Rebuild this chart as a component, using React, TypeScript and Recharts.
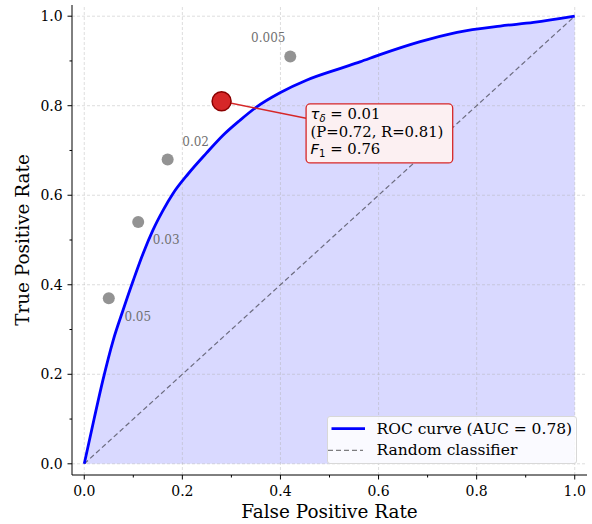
import {
  ComposedChart,
  Area,
  Line,
  Scatter,
  XAxis,
  YAxis,
  ReferenceLine,
  Label,
} from "recharts";

// ROC curve
const rocFpr = [0, 0.02, 0.038, 0.059, 0.079, 0.1, 0.12, 0.14, 0.16, 0.181, 0.212, 0.249, 0.283, 0.317, 0.351, 0.399, 0.453, 0.521, 0.562, 0.603, 0.685, 0.76, 0.848, 0.916, 1.0];
const rocTpr = [0, 0.1, 0.187, 0.276, 0.343, 0.41, 0.47, 0.522, 0.565, 0.604, 0.648, 0.694, 0.734, 0.767, 0.797, 0.829, 0.857, 0.883, 0.898, 0.914, 0.943, 0.964, 0.978, 0.986, 1.0];

// threshold operating points
const thrLabels = ["0.05", "0.03", "0.02", "0.005"];
const thrFpr = [0.05, 0.11, 0.17, 0.42];
const thrTpr = [0.37, 0.54, 0.68, 0.91];

// chosen threshold
const bestFpr = [0.28];
const bestTpr = [0.81];

const diagFpr = [0, 1];
const diagTpr = [0, 1];

const majorTicks = [0, 0.2, 0.4, 0.6, 0.8, 1.0];
const allTicks = [0, 0.1, 0.2, 0.3, 0.4, 0.5, 0.6, 0.7, 0.8, 0.9, 1.0];

const rocData = rocFpr.map((x, i) => ({ fpr: x, tpr: rocTpr[i] }));
const thrData = thrFpr.map((x, i) => ({ fpr: x, tpr: thrTpr[i], label: thrLabels[i] }));
const bestData = bestFpr.map((x, i) => ({ fpr: x, tpr: bestTpr[i] }));
const diagData = diagFpr.map((x, i) => ({ fpr: x, diag: diagTpr[i] }));

// label placement next to each gray dot (pixels from the dot)
const labelOffset: Record<string, [number, number]> = {
  "0.05": [29, 19],
  "0.03": [28, 18],
  "0.02": [28, -17],
  "0.005": [-22, -18],
};

const FONT = "DejaVu Serif";
const DOMAIN: [number, number] = [-0.025, 1.025];

const isMajor = (v: number) => Math.abs(v * 5 - Math.round(v * 5)) < 1e-6;

function XTick(props: any) {
  const { x, y, payload } = props;
  const v = payload.value;
  const major = isMajor(v);
  const len = major ? 4.5 : 2.5;
  return (
    <g>
      <line x1={x} x2={x} y1={y} y2={y + len} stroke="#000" strokeWidth={1} />
      {major && (
        <text x={x} y={y + len + 6.5} textAnchor="middle" dominantBaseline="hanging" fontFamily={FONT} fontSize={14} fill="#000">
          {v.toFixed(1)}
        </text>
      )}
    </g>
  );
}

function YTick(props: any) {
  const { x, y, payload } = props;
  const v = payload.value;
  const major = isMajor(v);
  const len = major ? 4.5 : 2.5;
  return (
    <g>
      <line x1={x - len} x2={x} y1={y} y2={y} stroke="#000" strokeWidth={1} />
      {major && (
        <text x={x - len - 4.8} y={y} textAnchor="end" dominantBaseline="central" fontFamily={FONT} fontSize={14} fill="#000">
          {v.toFixed(1)}
        </text>
      )}
    </g>
  );
}

function GrayDot(props: any) {
  const { cx, cy, payload } = props;
  const [dx, dy] = labelOffset[payload.label] || [20, 0];
  return (
    <g>
      <circle cx={cx} cy={cy} r={6} fill="#808080" fillOpacity={0.85} />
      <text x={cx + dx} y={cy + dy} textAnchor="middle" dominantBaseline="central" fontFamily={FONT} fontSize={12} fill="#707070">
        {payload.label}
      </text>
    </g>
  );
}

function BestDot(props: any) {
  const { cx, cy } = props;
  const bx = cx + 84.5;
  const by = cy + 2.7;
  return (
    <g>
      <line x1={cx} y1={cy} x2={bx} y2={cy + 17} stroke="#d62728" strokeWidth={1.5} />
      <circle cx={cx} cy={cy} r={9.5} fill="#d62728" stroke="#8b0000" strokeWidth={1.5} />
      <rect x={bx} y={by} width={146.6} height={59} rx={4} fill="#fcf0f2" stroke="#d62728" strokeWidth={1.3} />
      <text x={bx + 4.5} y={cy + 18} fontFamily={FONT} fontSize={14.8} fill="#000">
        <tspan fontFamily="DejaVu Sans" fontStyle="italic">τ</tspan>
        <tspan fontFamily="DejaVu Sans" fontStyle="italic" fontSize={10} dy={2.5}>δ</tspan>
        <tspan dy={-2.5}> = 0.01</tspan>
      </text>
      <text x={bx + 4.5} y={cy + 35.3} fontFamily={FONT} fontSize={14.8} fill="#000">
        (P=0.72, R=0.81)
      </text>
      <text x={bx + 4.5} y={cy + 52.8} fontFamily={FONT} fontSize={14.8} fill="#000">
        <tspan fontFamily="DejaVu Sans" fontStyle="italic">F</tspan>
        <tspan fontFamily="DejaVu Sans" fontSize={10} dy={2.5}>1</tspan>
        <tspan dy={-2.5}> = 0.76</tspan>
      </text>
    </g>
  );
}

function RocLegend() {
  return (
    <div
      style={{
        position: "absolute",
        left: 327,
        top: 416,
        width: 250,
        height: 48,
        boxSizing: "border-box",
        background: "rgba(255,255,255,0.85)",
        border: "1px solid #d8d8d8",
        borderRadius: 3,
      }}
    >
      <svg width={250} height={48} style={{ position: "absolute", left: -1, top: -1 }}>
        <line x1={4.5} x2={38} y1={12.6} y2={12.6} stroke="#0000ff" strokeWidth={2.8} />
        <line x1={1} x2={36} y1={34.3} y2={34.3} stroke="#000" strokeOpacity={0.5} strokeWidth={1.2} strokeDasharray="5 3" />
        <text x={49.5} y={12.6} dominantBaseline="central" fontFamily={FONT} fontSize={15.5}>ROC curve (AUC = 0.78)</text>
        <text x={49.5} y={34.3} dominantBaseline="central" fontFamily={FONT} fontSize={15.5}>Random classifier</text>
      </svg>
    </div>
  );
}

export default function App() {
  return (
    <div style={{ position: "absolute", left: 0, top: 0, width: 592, height: 524, background: "#fff" }}>
      <ComposedChart width={592} height={524} data={rocData} margin={{ top: 5, right: 5, bottom: 0, left: 0 }}>
        <XAxis
          dataKey="fpr"
          type="number"
          domain={DOMAIN}
          ticks={allTicks}
          interval={0}
          tickSize={0}
          tickMargin={0}
          tick={<XTick />}
          height={49}
          axisLine={{ stroke: "#000", strokeWidth: 1 }}
          allowDataOverflow
        >
          <Label
            content={(p: any) => {
              const vb = p.viewBox;
              return (
                <text x={vb.x + vb.width / 2} y={vb.y + 43} textAnchor="middle" fontFamily={FONT} fontSize={18.4} fill="#000">
                  False Positive Rate
                </text>
              );
            }}
          />
        </XAxis>
        <XAxis xAxisId="top" orientation="top" type="number" domain={DOMAIN} height={0} tick={false} tickLine={false} axisLine={{ stroke: "#000", strokeWidth: 1 }} />
        <YAxis
          type="number"
          domain={DOMAIN}
          ticks={allTicks}
          interval={0}
          tickSize={0}
          tickMargin={0}
          tick={<YTick />}
          width={72}
          axisLine={{ stroke: "#000", strokeWidth: 1 }}
          allowDataOverflow
        >
          <Label
            content={(p: any) => {
              const vb = p.viewBox;
              const cx = vb.x + 22;
              const cy = vb.y + vb.height / 2;
              return (
                <text x={cx} y={cy} transform={`rotate(-90 ${cx} ${cy})`} textAnchor="middle" dominantBaseline="central" fontFamily={FONT} fontSize={18.4} fill="#000">
                  True Positive Rate
                </text>
              );
            }}
          />
        </YAxis>
        <YAxis yAxisId="right" orientation="right" type="number" domain={DOMAIN} width={0} tick={false} tickLine={false} axisLine={{ stroke: "#000", strokeWidth: 1 }} />

        {majorTicks.map((t) => (
          <ReferenceLine key={`gx${t}`} x={t} stroke="#b0b0b0" strokeOpacity={0.55} strokeWidth={0.8} strokeDasharray="3 2" />
        ))}
        {majorTicks.map((t) => (
          <ReferenceLine key={`gy${t}`} y={t} stroke="#b0b0b0" strokeOpacity={0.55} strokeWidth={0.8} strokeDasharray="3 2" />
        ))}

        <Area type="monotone" dataKey="tpr" fill="#0000ff" fillOpacity={0.15} stroke="none" baseValue={0} isAnimationActive={false} />
        <Line data={diagData} dataKey="diag" stroke="#000" strokeOpacity={0.5} strokeWidth={1.2} strokeDasharray="5 3" dot={false} isAnimationActive={false} />
        <Line type="monotone" dataKey="tpr" stroke="#0000ff" strokeWidth={2.8} dot={false} isAnimationActive={false} />
        <Scatter data={thrData} dataKey="tpr" shape={<GrayDot />} isAnimationActive={false} />
        <Scatter data={bestData} dataKey="tpr" shape={<BestDot />} isAnimationActive={false} />
      </ComposedChart>
      <RocLegend />
    </div>
  );
}
